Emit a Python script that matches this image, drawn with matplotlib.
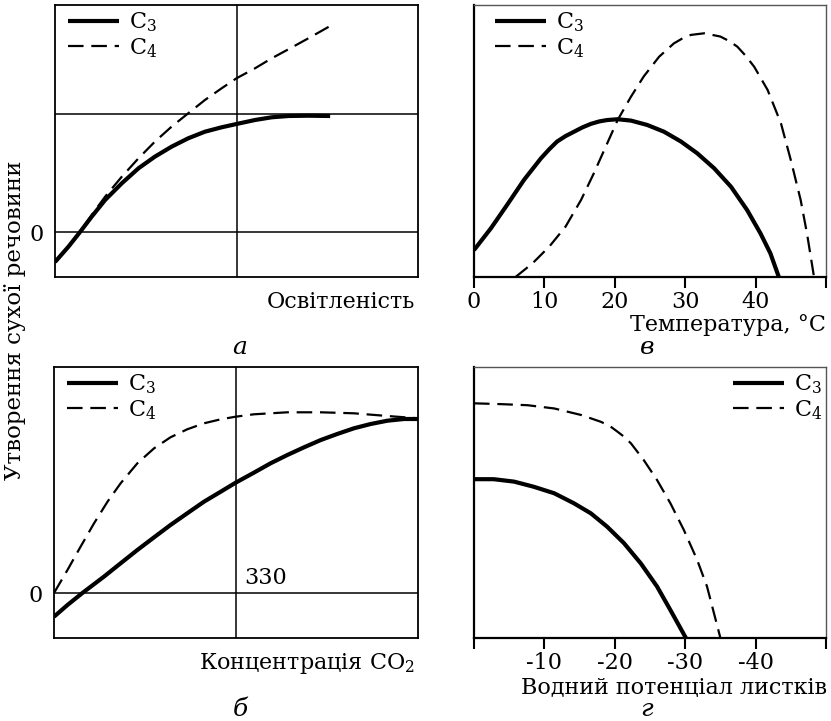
import matplotlib
matplotlib.use("Agg")
import matplotlib.pyplot as plt

plt.rcParams['font.family'] = ['DejaVu Serif']
plt.rcParams['mathtext.fontset'] = 'dejavuserif'

W, H = 831, 721

# а: освітленість (relative units)
light_x3 = [0, 3.7, 6.9, 10.1, 13.8, 18.4, 23, 27.5, 32.1, 36.7, 41.3, 45.9,
            50, 55.1, 59.7, 64.3, 69.8, 75.8]
light_c3 = [-30, -14.7, 0, 15.3, 32, 48.7, 63.7, 75.3, 85.3, 93.7, 100.3, 104.7,
            108, 112, 114.7, 116, 116.3, 116]
light_x4 = [0, 3.7, 6.9, 10.1, 13.8, 18.4, 23, 27.5, 32.1, 36.7, 41.3, 45.9,
            50, 55.1, 59.7, 64.3, 69.8, 75.8]
light_c4 = [-30, -14.5, 0.5, 17, 35.3, 55.3, 73.7, 90.3, 105.3, 118.7, 132, 143.7,
            153.7, 163.7, 173.7, 182.7, 193.7, 206]

# в: температура, °C
temp_x3 = [0, 2.4, 4.7, 7.1, 9.5, 10.7, 11.8, 13, 14.2, 15.4, 16.6, 17.8, 18.9,
           20.4, 22.3, 24.6, 27, 29.4, 31.7, 34.1, 36.5, 38.8, 40.7, 42.1, 43.3]
temp_c3 = [9.9, 17.9, 26.5, 35.7, 43.6, 47, 49.8, 51.8, 53.4, 55, 56.3, 57.2, 57.7,
           58, 57.5, 55.9, 53.4, 49.8, 45.5, 40, 33.2, 24.6, 16, 8.7, 0]
temp_x4 = [5.9, 8.3, 10.7, 13, 15.2, 17, 18.9, 20.4, 22.3, 24.1, 26.3, 28.4,
           29.6, 30.8, 32.7, 35, 36.2, 37.4, 38.6, 39.8, 41.7, 43.6, 45, 46.4, 47.3, 48.3]
temp_c4 = [0, 5, 11.2, 18.5, 28.3, 38, 49, 57.7, 66.3, 73.7, 81, 85.9,
           87.7, 89, 89.6, 88.4, 86.8, 84.7, 81.3, 77.3, 68.8, 56.5, 43, 28.3, 16, 0]
temp_ticks = [0, 10, 20, 30, 40, 50]
temp_labels = ['0', '10', '20', '30', '40', '']

# б: концентрація CO2
co2_x3 = [0, 3.7, 7.8, 13.7, 18.3, 22.9, 27.5, 32, 36.6, 41.2, 45.8, 49.9,
          54.9, 59.5, 64.1, 68.7, 73.3, 77.8, 82.4, 87, 91.6, 96.2, 100]
co2_c3 = [-23.7, -12, 0, 16.3, 29.7, 43, 55.7, 68, 79.7, 91.3, 101.3, 110.3,
          120.3, 129.7, 138, 145.7, 153, 159, 164.7, 169, 172.3, 174, 174]
co2_x4 = [0, 3.7, 7.3, 11, 14.7, 18.3, 22.9, 27.5, 32, 36.6, 41.2, 45.8,
          49.9, 54.9, 64.1, 73.3, 82.4, 91.6, 100]
co2_c4 = [0, 23, 46.3, 69.7, 91.3, 109.7, 129.7, 144.7, 155.7, 163.7, 169.7, 173.7,
          176.3, 178.7, 180.7, 180.7, 179.7, 177, 174.7]

# г: водний потенціал листків
water_x3 = [0, -2.8, -5.7, -8.5, -11.4, -14.2, -16.6, -18.9, -21.3, -23.7,
            -26, -27.9, -30.1]
water_c3 = [58.6, 58.6, 57.7, 55.8, 53.4, 49.7, 46, 41.1, 35, 27.5,
            19, 10.3, 0]
water_x4 = [0, -3.8, -7.6, -11.4, -15.2, -18, -19.3, -20.4, -21.4, -22.3, -24.1, -26,
            -27.9, -29.8, -31.7, -33.1, -35]
water_c4 = [86.6, 86.3, 85.9, 84.7, 82.3, 79.8, 78.2, 76.1, 74.1, 71.8, 65.7, 58.3,
            49.7, 39.9, 28.8, 19, 0]
water_ticks = [0, -10, -20, -30, -40, -50]
water_labels = ['', '-10', '-20', '-30', '-40', '']

FS = 16
TICK_FS = 16
C3_STYLE = dict(color='black', lw=3.0, solid_capstyle='butt', solid_joinstyle='round')
C4_STYLE = dict(color='black', lw=1.6, dashes=(7, 3.5))


def px_axes(left, top, right, bottom):
    return fig.add_axes([left / W, 1 - bottom / H, (right - left) / W, (bottom - top) / H])


def ftext(x, y, s, size=FS, **kw):
    fig.text(x / W, 1 - y / H, s, fontsize=size, va='center', **kw)


def style_box(ax):
    for side in ['left', 'bottom']:
        ax.spines[side].set_linewidth(1.6)
    for side in ['top', 'right']:
        ax.spines[side].set_linewidth(1.0)
        ax.spines[side].set_color('#555555')


def add_legend(ax, loc, anchor):
    ax.legend(loc=loc, bbox_to_anchor=anchor, frameon=False, fontsize=FS,
              handlelength=2.3, handletextpad=0.45, labelspacing=0.1,
              borderaxespad=0, borderpad=0)


fig = plt.figure(figsize=(W / 100, H / 100), dpi=100)

# а
ax = px_axes(55, 5, 418, 277)
ax.set_xlim(0, 100)
ax.set_ylim(-45, 227)
ax.axvline(50, color='black', lw=1.1)
ax.axhline(0, color='black', lw=1.1)
ax.axhline(118, color='black', lw=1.1)
ax.plot(light_x3, light_c3, label='C$_3$', **C3_STYLE)
ax.plot(light_x4, light_c4, label='C$_4$', **C4_STYLE)
ax.set_xticks([])
ax.set_yticks([0])
ax.set_yticklabels(['0'], fontsize=TICK_FS)
ax.tick_params(axis='y', length=0, pad=8)
for s in ax.spines.values():
    s.set_linewidth(1.3)
add_legend(ax, 'upper left', (0.035, 0.98))

# в
ax = px_axes(474, 5, 826, 277)
ax.set_xlim(0, 50)
ax.set_ylim(0, 100)
ax.plot(temp_x3, temp_c3, label='C$_3$', **C3_STYLE)
ax.plot(temp_x4, temp_c4, label='C$_4$', **C4_STYLE)
ax.set_xticks(temp_ticks)
ax.set_xticklabels(temp_labels, fontsize=TICK_FS)
ax.set_yticks([])
ax.tick_params(axis='x', direction='out', length=8, width=1.5, pad=2)
style_box(ax)
add_legend(ax, 'upper left', (0.06, 0.98))

# б
ax = px_axes(54, 367, 418, 638)
ax.set_xlim(0, 100)
ax.set_ylim(-45, 226)
ax.axvline(50, color='black', lw=1.1)
ax.axhline(0, color='black', lw=1.1)
ax.plot(co2_x3, co2_c3, label='C$_3$', **C3_STYLE)
ax.plot(co2_x4, co2_c4, label='C$_4$', **C4_STYLE)
ax.text(52.3, 15, '330', fontsize=TICK_FS, va='center', ha='left')
ax.set_xticks([])
ax.set_yticks([0])
ax.set_yticklabels(['0'], fontsize=TICK_FS)
ax.tick_params(axis='y', length=0, pad=8)
for s in ax.spines.values():
    s.set_linewidth(1.3)
add_legend(ax, 'upper left', (0.035, 0.98))

# г
ax = px_axes(474, 367, 826, 638)
ax.set_xlim(0, -50)
ax.set_ylim(0, 100)
ax.plot(water_x3, water_c3, label='C$_3$', **C3_STYLE)
ax.plot(water_x4, water_c4, label='C$_4$', **C4_STYLE)
ax.set_xticks(water_ticks)
ax.set_xticklabels(water_labels, fontsize=TICK_FS)
ax.set_yticks([])
ax.tick_params(axis='x', direction='out', length=8, width=1.5, pad=2)
style_box(ax)
add_legend(ax, 'upper right', (0.99, 0.98))

# axis captions and panel letters
ftext(415, 302, 'Освітленість', ha='right')
ftext(826, 325, 'Температура, °C', ha='right')
ftext(415, 663, 'Концентрація CO$_2$', ha='right')
ftext(827, 688, 'Водний потенціал листків', ha='right')
ftext(15, 320, 'Утворення сухої речовини', size=16.5, ha='center', rotation=90)
ftext(240, 348, 'а', size=FS + 2, ha='center', style='italic')
ftext(240, 710, 'б', size=FS + 2, ha='center', style='italic')
ftext(647, 348, 'в', size=FS + 2, ha='center', style='italic')
ftext(647, 710, 'г', size=FS + 2, ha='center', style='italic')

fig.savefig('out.png', dpi=100)
